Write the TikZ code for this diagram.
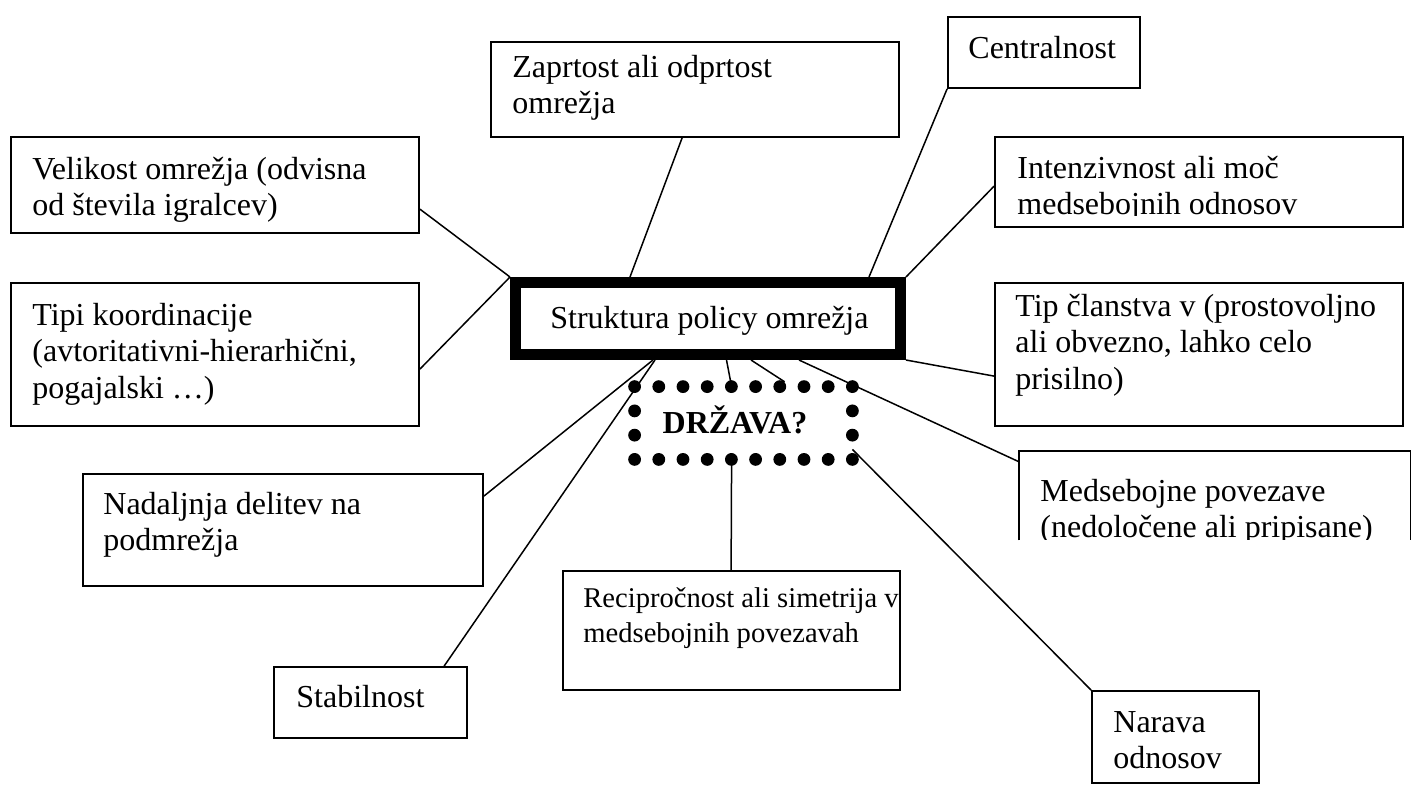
\documentclass[tikz,border=0pt]{standalone}
\usepackage{fontspec}
\setmainfont{Liberation Serif}
\usetikzlibrary{fit,calc}
\begin{document}
\begin{tikzpicture}[x=0.5pt,y=-0.5pt,
  box/.style={draw, line width=0.9pt, inner sep=0pt},
  edge/.style={draw, line width=0.9pt},
  conn/.style={draw, line width=0.75pt},
  lbl/.style={anchor=base west, inner sep=0pt, text width=240pt, align=justify, font=\fontsize{16}{18.4}\selectfont},
  dotn/.style={circle, fill=black, inner sep=0pt, minimum size=6.4pt}]
\useasboundingbox (0,0) rectangle (1419,784);
% boxes
\node[box, fit={(11,137) (419,233)}] (vel) {};
\node[box, fit={(11,283) (419,426)}] (tipi) {};
\node[box, fit={(491,42) (899,137)}] (zap) {};
\node[box, fit={(948,17) (1140,88)}] (cen) {};
\node[box, fit={(995,137) (1403,227)}] (int) {};
\node[box, fit={(995,283) (1403,426)}] (tip) {};
\node[inner sep=0pt, fit={(1019,451) (1410,540)}] (med) {};
\draw[edge] (med.south west) -- (med.north west) -- (med.north east) -- (med.south east);
\node[box, fit={(83,474) (483,586)}] (nad) {};
\node[box, fit={(274,667) (467,738)}] (stab) {};
\node[box, fit={(563,571) (900,690)}] (rec) {};
\node[box, fit={(1092,691) (1259,783)}] (nar) {};
\node[draw, line width=5.5pt, inner sep=0pt, fit={(515.5,282.5) (900.5,354.5)}] (C) {};
\node[inner sep=0pt, fit={(635,387) (852,459)}] (D) {};
% dots
\foreach \i in {0,...,9} {
  \node[dotn] (dt\i) at ($(D.north west)!\i/9!(D.north east)$) {};
  \node[dotn] (db\i) at ($(D.south west)!\i/9!(D.south east)$) {};
}
\foreach \i in {1,2} {
  \node[dotn] (dl\i) at ($(D.north west)!\i/3!(D.south west)$) {};
  \node[dotn] (dr\i) at ($(D.north east)!\i/3!(D.south east)$) {};
}
% texts
\node[lbl] (tvel) at (32,179) {Velikost omrežja (odvisna\\od števila igralcev)};
\node[lbl] (ttipi) at (32,325) {Tipi koordinacije\\(avtoritativni-hierarhični,\\pogajalski …)};
\node[lbl] (tzap) at (512,77) {Zaprtost ali odprtost\\omrežja};
\node[lbl] (tcen) at (968,58) {Centralnost};
\begin{scope}
\clip (995,137) rectangle (1403,215);
\node[lbl] (tint) at (1017,178) {Intenzivnost ali moč\\medsebojnih odnosov};
\end{scope}
\node[lbl] (ttip) at (1015,316) {Tip članstva v (prostovoljno\\ali obvezno, lahko celo\\prisilno)};
\begin{scope}
\clip (1019,451) rectangle (1410,539);
\node[lbl] (tmed) at (1040,501) {Medsebojne povezave\\(nedoločene ali pripisane)};
\end{scope}
\node[lbl] (tnad) at (103,514) {Nadaljnja delitev na\\podmrežja};
\node[lbl] (tstab) at (296,707) {Stabilnost};
\node[lbl, font=\fontsize{14.3}{17.8}\selectfont] (trec) at (583,607) {Recipročnost ali simetrija v\\medsebojnih povezavah};
\node[lbl] (tnar) at (1113,732) {Narava\\odnosov};
\node[lbl] (tC) at (550,328) {Struktura policy omrežja};
\node[anchor=base, inner sep=0pt, font=\fontsize{16}{18.4}\selectfont\bfseries] (tD) at (735,433) {DRŽAVA?};
% connectors
\draw[conn] ($(vel.north east)+(0,73)$) -- (C.north west);
\draw[conn] ($(tipi.north east)+(0,87)$) -- (C.north west);
\draw[conn] ($(zap.south west)+(192,0)$) -- ($(C.north west)+(120,0)$);
\draw[conn] (cen.south west) -- ($(C.north west)+(359,0)$);
\draw[conn] ($(int.north west)+(0,50)$) -- (C.north east);
\draw[conn] ($(tip.north west)+(0,94)$) -- (C.south east);
\draw[conn] ($(C.south west)+(289,0)$) -- ($(med.north west)+(0,11)$);
\draw[conn] ($(C.south west)+(143,0)$) -- ($(nad.north east)+(0,23)$);
\draw[conn] ($(C.south west)+(145,0)$) -- ($(stab.north west)+(171,0)$);
\draw[conn] ($(C.south west)+(216.5,0)$) -- ($(D.north west)+(97,0)$);
\draw[conn] ($(C.south west)+(241,0)$) -- (dt6.north east);
\draw[conn] ($(D.south east)+(0,-10)$) -- (nar.north west);
\draw[conn] ($(D.south west)+(97,0)$) -- ($(rec.north west)+(169,0)$);
\end{tikzpicture}
\end{document}
